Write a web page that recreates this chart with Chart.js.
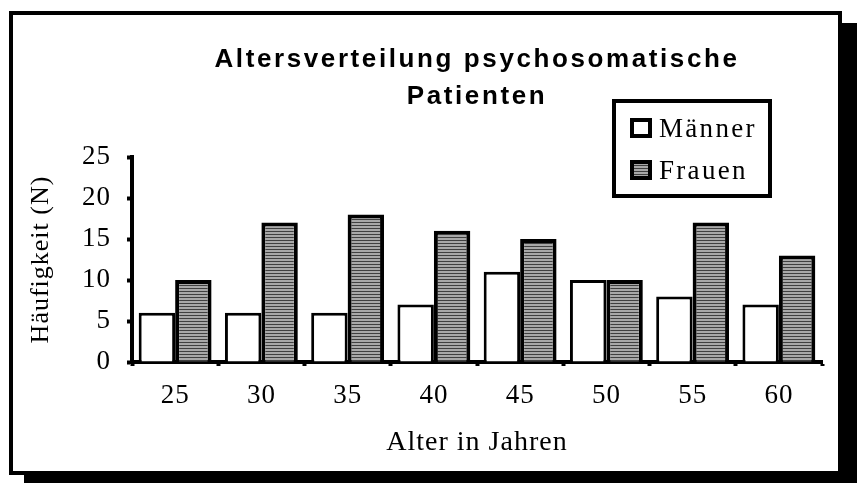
<!DOCTYPE html>
<html>
<head>
<meta charset="utf-8">
<script src="https://cdn.jsdelivr.net/npm/chart.js@4"></script>
<style>
	html, body { margin: 0; padding: 0; background: #fff; }
	canvas { display: block; }
</style>
</head>
<body>
<canvas id="chart" width="857" height="483"></canvas>
<script>
const ageGroups = ["25", "30", "35", "40", "45", "50", "55", "60"];
const maenner = [6, 6, 6, 7, 11, 10, 8, 7];
const frauen = [10, 17, 18, 16, 15, 10, 17, 13];
const seriesLabels = ["Männer", "Frauen"];
const titleLines = ["Altersverteilung psychosomatische", "Patienten"];
const yAxisTitle = "Häufigkeit (N)";
const xAxisTitle = "Alter in Jahren";
const yMax = 25;
const yStep = 5;

const serif = "'Liberation Serif', 'Times New Roman', serif";
const sans = "'Liberation Sans', Arial, sans-serif";

const chartCanvas = document.getElementById("chart");

// grey fill with fine horizontal lines, like the old print pattern
const makeStripes = () => {
	const c = document.createElement("canvas");
	c.width = 4;
	c.height = 3;
	const g = c.getContext("2d");
	g.fillStyle = "#a8a8a8";
	g.fillRect(0, 0, 4, 3);
	g.fillStyle = "#404040";
	g.fillRect(0, 0, 4, 1);
	return chartCanvas.getContext("2d").createPattern(c, "repeat");
};

const framePlugin = {
	id: "frame",
	beforeDraw: (chart) => {
		const ctx = chart.ctx;
		ctx.save();
		ctx.fillStyle = "#fff";
		ctx.fillRect(0, 0, chart.width, chart.height);
		ctx.fillStyle = "#000";
		ctx.fillRect(24, 23, chart.width - 24, chart.height - 23);
		ctx.fillStyle = "#fff";
		ctx.fillRect(9, 11, 833, 464);
		ctx.lineWidth = 4;
		ctx.strokeStyle = "#000";
		ctx.strokeRect(11, 13, 829, 460);
		ctx.restore();
		ctx.letterSpacing = "1px";
	},
	afterDraw: (chart) => {
		const ctx = chart.ctx;
		ctx.save();
		ctx.fillStyle = "#000";
		ctx.font = "bold 26px " + sans;
		ctx.letterSpacing = "2.6px";
		ctx.textAlign = "center";
		ctx.textBaseline = "alphabetic";
		ctx.fillText(titleLines[0], 477, 67);
		ctx.fillText(titleLines[1], 477, 104);

		// legend box
		ctx.letterSpacing = "0px";
		ctx.strokeStyle = "#000";
		ctx.lineWidth = 4;
		ctx.strokeRect(614, 101, 156, 95);
		ctx.textAlign = "left";
		ctx.font = "27px " + serif;
		chart.data.datasets.forEach((ds, i) => {
			const y = 118 + i * 42;
			ctx.fillStyle = ds.backgroundColor;
			ctx.fillRect(630, y, 22, 20);
			ctx.lineWidth = 4;
			ctx.strokeRect(632, y + 2, 18, 16);
			ctx.fillStyle = "#000";
			ctx.letterSpacing = "2.3px";
			ctx.fillText(ds.label, 659, y + 19);
			ctx.letterSpacing = "0px";
		});
		ctx.restore();
	},
};

Chart.defaults.font.family = serif;
Chart.defaults.color = "#000";

const chart = new Chart(chartCanvas, {
	type: "bar",
	data: {
		labels: ageGroups,
		datasets: [
			{
				label: seriesLabels[0],
				data: maenner,
				backgroundColor: "#fff",
				borderColor: "#000",
				borderWidth: 3,
				categoryPercentage: 0.845,
				barPercentage: 1,
			},
			{
				label: seriesLabels[1],
				data: frauen,
				backgroundColor: makeStripes(),
				borderColor: "#000",
				borderWidth: 4,
				categoryPercentage: 0.845,
				barPercentage: 1,
			},
		],
	},
	options: {
		responsive: false,
		animation: false,
		devicePixelRatio: 1,
		layout: {
			padding: { left: 0, top: 157, right: 35, bottom: 0 },
		},
		plugins: {
			legend: { display: false },
			title: { display: false },
			tooltip: { enabled: false },
		},
		scales: {
			x: {
				z: 1,
				border: { color: "#000", width: 4 },
				grid: {
					offset: true,
					drawOnChartArea: false,
					tickLength: 4,
					tickWidth: 4,
					tickColor: "#000",
				},
				ticks: {
					font: { size: 27 },
					color: "#000",
					padding: 14,
					maxRotation: 0,
				},
				title: {
					display: true,
					text: xAxisTitle,
					font: { size: 28 },
					color: "#000",
					padding: { top: 0, bottom: 24 },
				},
				afterFit: (scale) => {
					scale.height = 121;
				},
			},
			y: {
				z: 1,
				min: 0,
				max: yMax,
				border: { color: "#000", width: 4 },
				grid: {
					drawOnChartArea: false,
					tickLength: 5,
					tickWidth: 4,
					tickColor: "#000",
				},
				ticks: {
					stepSize: yStep,
					font: { size: 27 },
					color: "#000",
					padding: 16,
				},
				title: {
					display: true,
					text: yAxisTitle,
					font: { size: 26 },
					color: "#000",
					padding: { top: 26, bottom: 0 },
				},
				afterFit: (scale) => {
					scale.width = 132;
				},
			},
		},
	},
	plugins: [framePlugin],
});
</script>
</body>
</html>
